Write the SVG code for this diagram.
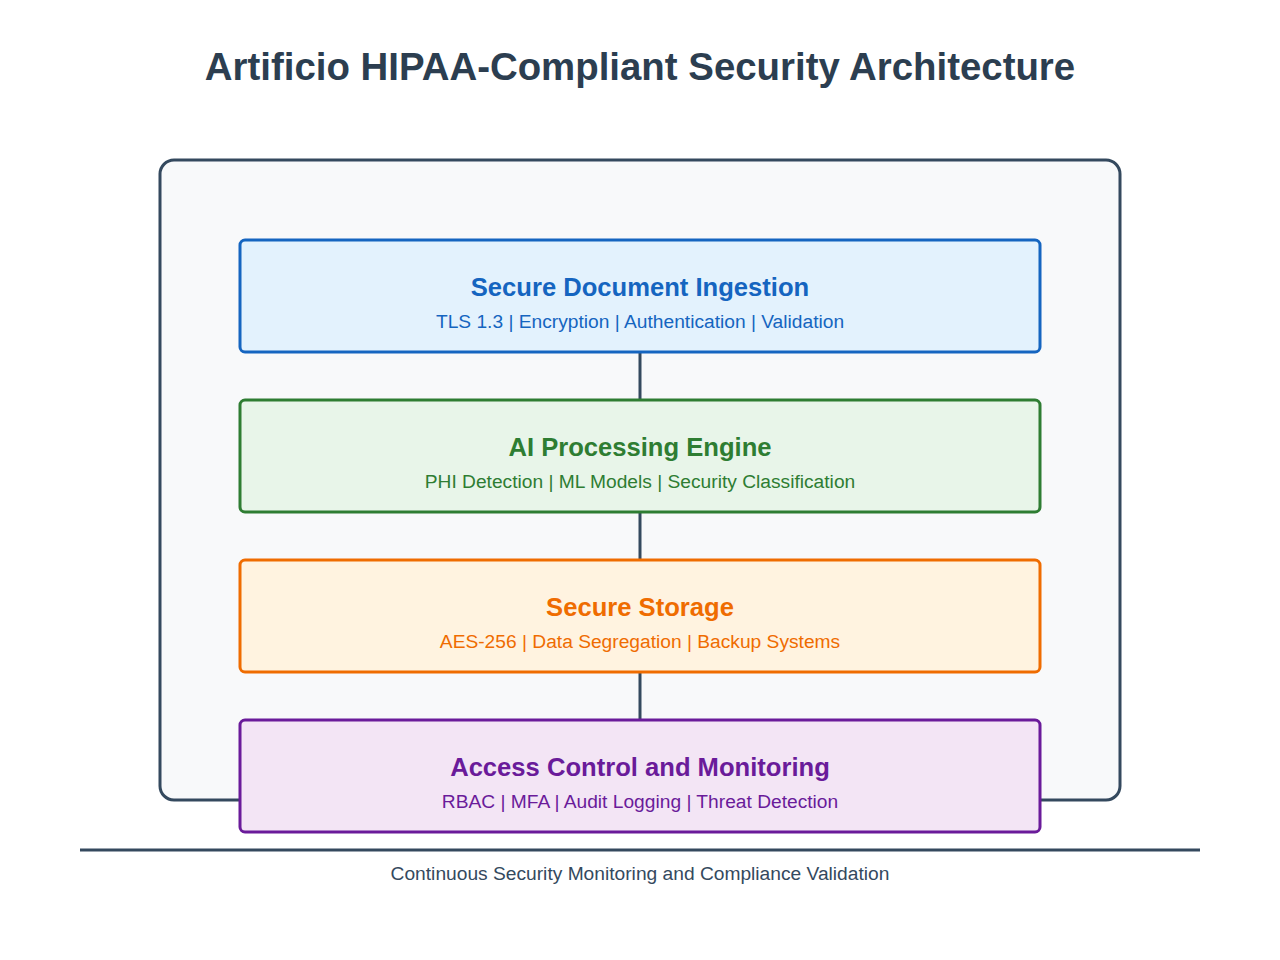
<svg xmlns="http://www.w3.org/2000/svg" width="1280" height="960" viewBox="0 0 1280 960">
<style>
text{font-family:"Liberation Sans",Arial,sans-serif;text-anchor:middle}
.title{font-size:38.4px;font-weight:bold;fill:#2c3e50}
.h{font-size:25.6px;font-weight:bold}
.s{font-size:19.2px}
.box{stroke-width:3}
.conn{stroke:#34495e;stroke-width:3;fill:none}
.foot{font-size:19.2px;fill:#34495e}
</style>
<rect width="1280" height="960" fill="#ffffff"/>
<text class="title" x="640" y="80">Artificio HIPAA-Compliant Security Architecture</text>
<g id="container">
<rect x="160" y="160" width="960" height="640" rx="14" fill="#f8f9fa" stroke="#34495e" stroke-width="3"/>
</g>
<g id="connectors">
<line class="conn" x1="640" y1="352" x2="640" y2="400"/>
<line class="conn" x1="640" y1="512" x2="640" y2="560"/>
<line class="conn" x1="640" y1="672" x2="640" y2="720"/>
</g>
<g id="ingestion">
<rect class="box" x="240" y="240" width="800" height="112" rx="5" fill="#e3f2fd" stroke="#1565c0"/>
<text class="h" x="640" y="296" fill="#1565c0">Secure Document Ingestion</text>
<text class="s" x="640" y="328" fill="#1565c0">TLS 1.3 | Encryption | Authentication | Validation</text>
</g>
<g id="processing">
<rect class="box" x="240" y="400" width="800" height="112" rx="5" fill="#e8f5e9" stroke="#2e7d32"/>
<text class="h" x="640" y="456" fill="#2e7d32">AI Processing Engine</text>
<text class="s" x="640" y="488" fill="#2e7d32">PHI Detection | ML Models | Security Classification</text>
</g>
<g id="storage">
<rect class="box" x="240" y="560" width="800" height="112" rx="5" fill="#fff3e0" stroke="#ef6c00"/>
<text class="h" x="640" y="616" fill="#ef6c00">Secure Storage</text>
<text class="s" x="640" y="648" fill="#ef6c00">AES-256 | Data Segregation | Backup Systems</text>
</g>
<g id="access">
<rect class="box" x="240" y="720" width="800" height="112" rx="5" fill="#f3e5f5" stroke="#6a1b9a"/>
<text class="h" x="640" y="776" fill="#6a1b9a">Access Control and Monitoring</text>
<text class="s" x="640" y="808" fill="#6a1b9a">RBAC | MFA | Audit Logging | Threat Detection</text>
</g>
<g id="footer">
<line x1="80" y1="850" x2="1200" y2="850" stroke="#34495e" stroke-width="3"/>
<text class="foot" x="640" y="880">Continuous Security Monitoring and Compliance Validation</text>
</g>
</svg>
